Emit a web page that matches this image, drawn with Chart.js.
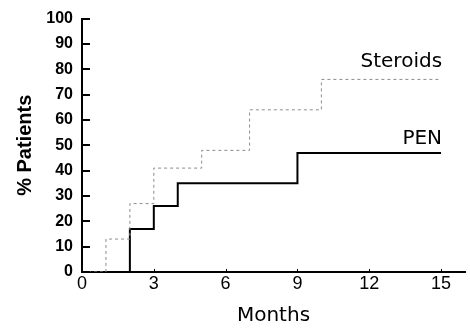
<!DOCTYPE html>
<html>
<head>
<meta charset="utf-8">
<script src="https://cdn.jsdelivr.net/npm/chart.js@4.4.1/dist/chart.umd.min.js"></script>
<style>
  html, body { margin: 0; padding: 0; background: #fff; }
  #wrap { width: 470px; height: 328px; position: relative; }
</style>
</head>
<body>
<div id="wrap"><canvas id="kmChart"></canvas></div>
<script>
// cumulative % of patients, step curves
const penMonths = [0, 2, 3, 4, 9, 15];
const penValues = [0, 17, 26, 35, 47, 47];
const steroidMonths = [0, 1, 2, 3, 5, 7, 10, 15];
const steroidValues = [0, 13, 27, 41, 48, 64, 76, 76];
const xTicks = [0, 3, 6, 9, 12, 15];
const yTicks = [0, 10, 20, 30, 40, 50, 60, 70, 80, 90, 100];

function toPoints(xs, ys) {
    return xs.map((x, i) => ({ x: x, y: ys[i] }));
}

// short tick marks pointing into the plot
const inwardTicks = {
    id: 'inwardTicks',
    afterDraw(chart) {
        const ctx = chart.ctx;
        const xs = chart.scales.x;
        const ys = chart.scales.y;
        const area = chart.chartArea;
        ctx.save();
        ctx.strokeStyle = '#000';
        ctx.lineWidth = 2;
        yTicks.forEach(v => {
            const py = Math.round(ys.getPixelForValue(v));
            ctx.beginPath();
            ctx.moveTo(area.left, py);
            ctx.lineTo(area.left + 8, py);
            ctx.stroke();
        });
        ctx.lineWidth = 1;
        xTicks.slice(1).forEach(v => {
            const px = Math.round(xs.getPixelForValue(v)) + 0.5;
            ctx.beginPath();
            ctx.moveTo(px, area.bottom);
            ctx.lineTo(px, area.bottom - 3);
            ctx.stroke();
        });
        ctx.restore();
    }
};

// series names written above the end of each curve
const seriesLabels = {
    id: 'seriesLabels',
    afterDraw(chart) {
        const ctx = chart.ctx;
        const xs = chart.scales.x;
        const ys = chart.scales.y;
        ctx.save();
        ctx.fillStyle = '#000';
        ctx.font = '20px "DejaVu Sans"';
        ctx.textAlign = 'right';
        ctx.textBaseline = 'alphabetic';
        const xEnd = xs.getPixelForValue(15) + 1;
        ctx.fillText('Steroids', xEnd, ys.getPixelForValue(steroidValues[steroidValues.length - 1]) - 12);
        ctx.fillText('PEN', xEnd, ys.getPixelForValue(penValues[penValues.length - 1]) - 9);
        ctx.restore();
    }
};

new Chart(document.getElementById('kmChart').getContext('2d'), {
    type: 'line',
    data: {
        datasets: [
            {
                label: 'Steroids',
                data: toPoints(steroidMonths, steroidValues),
                stepped: 'before',
                borderColor: '#8c8c8c',
                borderWidth: 1,
                borderDash: [3, 3],
                pointRadius: 0,
                fill: false
            },
            {
                label: 'PEN',
                data: toPoints(penMonths, penValues),
                stepped: 'before',
                borderColor: '#000',
                borderWidth: 2,
                pointRadius: 0,
                fill: false
            }
        ]
    },
    options: {
        responsive: true,
        maintainAspectRatio: false,
        animation: false,
        layout: { padding: { top: 15, right: 5, left: 0, bottom: 0 } },
        plugins: {
            legend: { display: false },
            tooltip: { enabled: false }
        },
        scales: {
            x: {
                type: 'linear',
                min: 0,
                max: 16,
                afterFit: s => { s.height = 56; },
                afterBuildTicks: s => { s.ticks = xTicks.map(v => ({ value: v })); },
                grid: { display: false, drawTicks: false },
                border: { display: true, color: '#000', width: 2 },
                ticks: {
                    color: '#000',
                    padding: 1,
                    font: { family: '"Liberation Sans", Arial', size: 18 }
                },
                title: {
                    display: true,
                    text: 'Months',
                    color: '#000',
                    padding: { top: 0, bottom: 0 },
                    font: { family: '"DejaVu Sans"', size: 20 }
                }
            },
            y: {
                min: 0,
                max: 100,
                afterFit: s => { s.width = 82; },
                afterBuildTicks: s => { s.ticks = yTicks.map(v => ({ value: v })); },
                grid: { display: false, drawTicks: false },
                border: { display: true, color: '#000', width: 2 },
                ticks: {
                    color: '#000',
                    padding: 9,
                    font: { family: '"Liberation Sans", Arial', size: 16, weight: 'bold' }
                },
                title: {
                    display: true,
                    text: '% Patients',
                    color: '#000',
                    padding: { top: 13, bottom: 0 },
                    font: { family: '"Liberation Sans", Arial', size: 20, weight: 'bold' }
                }
            }
        }
    },
    plugins: [inwardTicks, seriesLabels]
});
</script>
</body>
</html>
